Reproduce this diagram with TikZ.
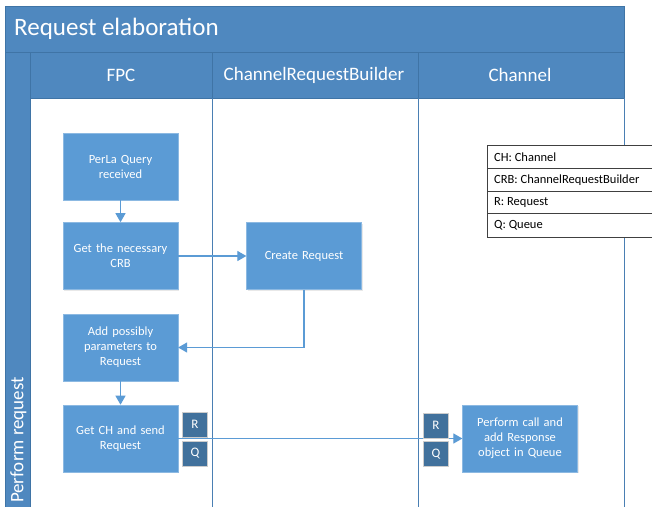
\documentclass[tikz,border=0pt]{standalone}
\usepackage{fontspec}
\setmainfont{Carlito}
\usetikzlibrary{arrows.meta,shadows}

\definecolor{bandblue}{HTML}{4F88BF}
\definecolor{bandedge}{HTML}{3F74A6}
\definecolor{boxblue}{HTML}{5B9BD5}
\definecolor{tagblue}{HTML}{41719C}
\definecolor{laneline}{HTML}{4A7FB3}
\definecolor{flowblue}{HTML}{5B9BD5}
\definecolor{legendline}{HTML}{404040}

\tikzset{
  band/.style={fill=bandblue, draw=bandedge, line width=0.8pt},
  flowbox/.style={rectangle, fill=boxblue, text=white, draw=boxblue!70!white, line width=0.6pt,
    minimum width=113pt, minimum height=67pt, align=center, text width=108pt,
    font=\fontsize{12.5}{15}\selectfont,
    drop shadow={opacity=0.18, shadow xshift=1.2pt, shadow yshift=-1.2pt}},
  tagbox/.style={rectangle, fill=tagblue, text=white, draw=gray!40, line width=0.6pt,
    minimum width=25pt, minimum height=25pt, inner sep=0pt,
    font=\fontsize{13}{15}\selectfont},
  flow/.style={draw=flowblue, line width=1.2pt, -{Triangle[length=9pt,width=10pt]}},
  legendrow/.style={anchor=west, font=\fontsize{12.5}{14}\selectfont, text=black, inner sep=0pt},
  lanehead/.style={text=white, font=\fontsize{19}{22}\selectfont}
}

\begin{document}
\begin{tikzpicture}[x=1pt,y=-1pt]
\useasboundingbox (0,0) rectangle (652,506);
\clip (0,0) rectangle (652,506);
\fill[white] (0,0) rectangle (652,506);

% pool title bar
\filldraw[band] (5,6) rectangle (624,52);
\node[anchor=west, text=white, font=\fontsize{25}{29}\selectfont, inner sep=0pt] (title) at (14,29) {Request elaboration};

% vertical phase band
\filldraw[band] (5,52) rectangle (30,515);
\node[rotate=90, text=white, font=\fontsize{19}{22}\selectfont, inner sep=0pt] (phase) at (18.5,440) {Perform request};

% lane headers
\filldraw[band] (30,52) rectangle (212,98);
\filldraw[band] (212,52) rectangle (418,98);
\filldraw[band] (418,52) rectangle (624,98);
\node[lanehead] (hfpc) at (121,75) {FPC};
\node[lanehead] (hcrb) at (314,75) {ChannelRequestBuilder};
\node[lanehead] (hch) at (520,75) {Channel};

% lane separators
\draw[laneline, line width=1pt] (212,98) -- (212,515);
\draw[laneline, line width=1pt] (418,98) -- (418,515);
\draw[laneline, line width=1pt] (624,98) -- (624,515);

% process steps
\node[flowbox] (query) at (120.5,166.5) {PerLa Query\\received};
\node[flowbox] (getcrb) at (120.5,256) {Get the necessary\\CRB};
\node[flowbox] (create) at (304,256) {Create Request};
\node[flowbox] (addpar) at (120.5,347.5) {Add possibly\\parameters to\\Request};
\node[flowbox] (send) at (120.5,438.5) {Get CH and send\\Request};
\node[flowbox] (perform) at (520,438.5) {Perform call and\\add Response\\object in Queue};

% control flow
\draw[flow] (query) -- (getcrb);
\draw[flow] (getcrb) -- (create);
\draw[flow] (create.south) |- (addpar.east);
\draw[flow] (addpar) -- (send);
\draw[flow] (send.east) -- (perform.west);

% data objects carried along the call
\node[tagbox] (r1) at (195,424.5) {R};
\node[tagbox] (q1) at (195,453.5) {Q};
\node[tagbox] (r2) at (436,425.5) {R};
\node[tagbox] (q2) at (436,454) {Q};

% legend
\filldraw[fill=white, draw=legendline, line width=0.9pt] (487,145) rectangle (670,237);
\draw[legendline, line width=0.9pt] (487,168) -- (670,168);
\draw[legendline, line width=0.9pt] (487,191) -- (670,191);
\draw[legendline, line width=0.9pt] (487,213) -- (670,213);
\node[legendrow] (lch) at (494,157) {CH: Channel};
\node[legendrow] (lcrb) at (494,180) {CRB: ChannelRequestBuilder};
\node[legendrow] (lr) at (494,202.5) {R: Request};
\node[legendrow] (lq) at (494,225.5) {Q: Queue};
\end{tikzpicture}
\end{document}
